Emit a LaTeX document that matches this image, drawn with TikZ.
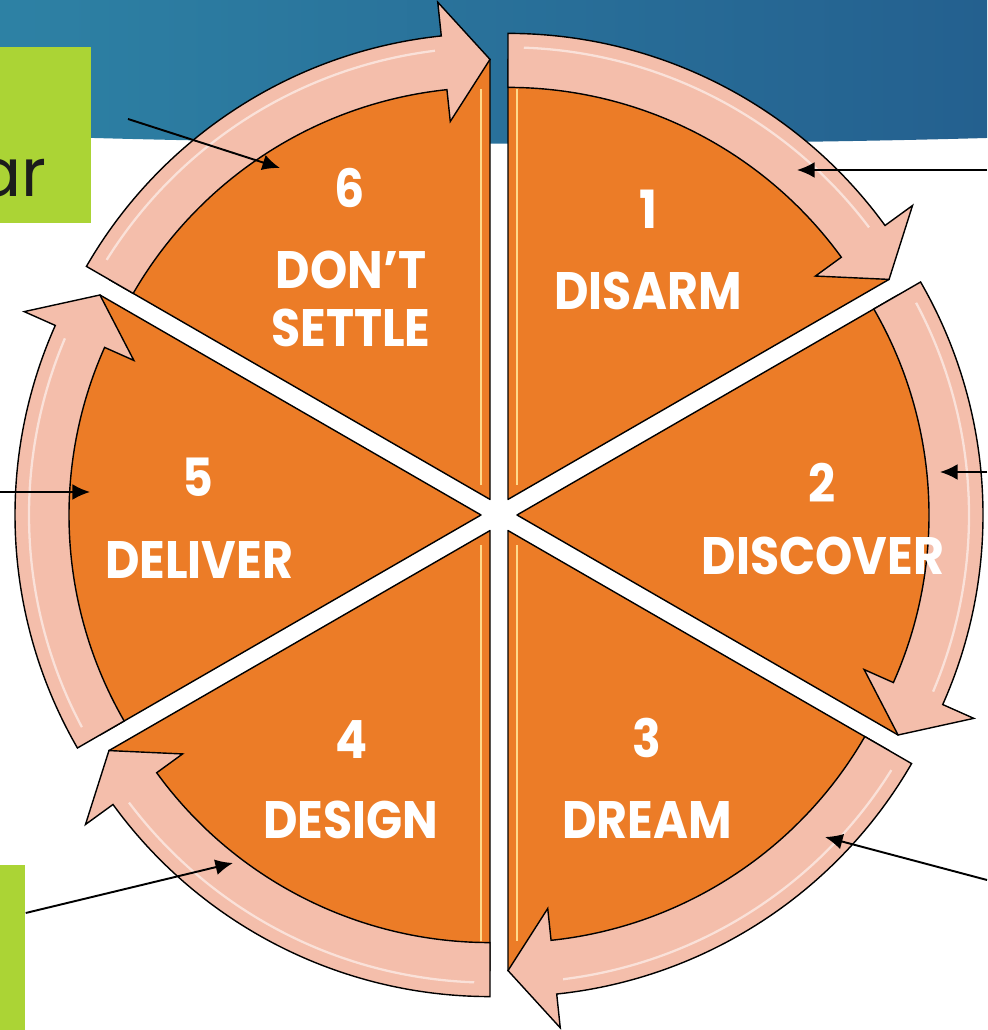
\documentclass[tikz,border=0pt]{standalone}
\usepackage{fontspec}
\setmainfont{Poppins}
\newfontfamily\stepfont[FakeStretch=0.9]{Poppins}
\usetikzlibrary{arrows.meta}

\definecolor{wedge}{HTML}{EC7C27}
\definecolor{band}{HTML}{F4BEAB}
\definecolor{bevel}{HTML}{FFD98A}
\definecolor{lime}{HTML}{ABD435}
\definecolor{sea}{HTML}{2F87A8}
\definecolor{deepsea}{HTML}{24608F}
\definecolor{ink}{HTML}{1C1C1C}

\tikzset{
  wedgepart/.style={fill=wedge, draw=black, line width=0.8pt, line join=round},
  bandpart/.style={fill=band, draw=black, line width=0.8pt, line join=miter},
  gloss/.style={draw=white, opacity=0.55, line width=1.3pt},
  bevelline/.style={draw=bevel, line width=1.6pt},
  stepnum/.style={text=white, font=\stepfont\bfseries\fontsize{30}{30}\selectfont, inner sep=0pt},
  stepname/.style={text=white, font=\stepfont\bfseries\fontsize{30}{33}\selectfont, align=center, inner sep=0pt},
  pointer/.style={-{Latex[length=10pt,width=9pt]}, line width=1.1pt, draw=black},
  tagbox/.style={fill=lime, inner sep=0pt, anchor=south west}
}

\begin{document}
\begin{tikzpicture}[x=0.02cm, y=0.02cm]
\useasboundingbox (0,0) rectangle (987,1030);
\fill[white] (0,0) rectangle (987,1030);

% banner across the top
\shade[left color=sea!85!deepsea, middle color=sea, right color=deepsea]
  (0,1030) -- (0,895) .. controls (300,884) and (700,884) .. (987,892) -- (987,1030) -- cycle;

% green boxes on the left
\node[tagbox, minimum width=1.82cm, minimum height=3.52cm] (topbox) at (0,807) {};
\node[anchor=base east, inner sep=0pt, text=ink, font=\fontsize{38}{38}\selectfont] (tag) at (47,833) {ar};
\node[tagbox, minimum width=0.5cm, minimum height=3.3cm] (lowbox) at (0,0) {};

% six wedges, each with its curved arrow
\begin{scope}[shift={(499,515)}]
\foreach \a in {90,30,-30,-90,-150,-210}{
  \pgfmathsetmacro\b{\a-30}
  \pgfmathsetmacro\e{\a-60}
  \pgfmathsetmacro\w{\a-54}
  \begin{scope}[shift={(\b:18)}]
    \draw[wedgepart] (0,0) -- (\a:440) arc[start angle=\a, end angle=\e, radius=440] -- cycle;
  \end{scope}
}
\end{scope}

% light strip along the upright edges
\draw[bevelline] (517,545) -- (517,941);
\draw[bevelline] (481,545) -- (481,941);
\draw[bevelline] (517,485) -- (517,89);
\draw[bevelline] (481,485) -- (481,89);

\begin{scope}[shift={(499,515)}]
\foreach \a in {90,30,-30,-90,-150,-210}{
  \pgfmathsetmacro\b{\a-30}
  \pgfmathsetmacro\e{\a-60}
  \pgfmathsetmacro\w{\a-54}
  \pgfmathsetmacro\g{\a-2}
  \pgfmathsetmacro\h{\a-53}
  \begin{scope}[shift={(\b:18)}]
    \draw[bandpart] (\a:412) -- (\a:466) arc[start angle=\a, end angle=\w, radius=466]
      -- (\w:500) -- (\e:440) -- (\w:380) -- (\w:412)
      arc[start angle=\w, end angle=\a, radius=412] -- cycle;
    \draw[gloss] (\g:452) arc[start angle=\g, end angle=\h, radius=452];
  \end{scope}
}
\end{scope}

% labels
\node[stepnum] (num1) at (648,821) {1};
\node[stepname] (step1) at (648,739) {DISARM};
\node[stepnum] (num2) at (822,547) {2};
\node[stepname] (step2) at (823,474) {DISCOVER};
\node[stepnum] (num3) at (647,292) {3};
\node[stepname] (step3) at (647,210) {DREAM};
\node[stepnum] (num4) at (352,290) {4};
\node[stepname] (step4) at (351,210) {DESIGN};
\node[stepnum] (num5) at (198,553) {5};
\node[stepname] (step5) at (199,470) {DELIVER};
\node[stepnum] (num6) at (350,842) {6};
\node[stepname] (step6) at (351,731) {DON’T\\SETTLE};

% pointers
\coordinate (s6) at (128,911); \coordinate (t6) at (280,862);
\coordinate (s1) at (987,860); \coordinate (t1) at (797,860);
\coordinate (s5) at (0,538);   \coordinate (t5) at (90,538);
\coordinate (s2) at (987,558); \coordinate (t2) at (940,558);
\coordinate (s3) at (987,150); \coordinate (t3) at (825,193);
\coordinate (s4) at (lowbox.east |- 0,117); \coordinate (t4) at (233,167);
\draw[pointer] (s6) -- (t6);
\draw[pointer] (s1) -- (t1);
\draw[pointer] (s5) -- (t5);
\draw[pointer] (s2) -- (t2);
\draw[pointer] (s3) -- (t3);
\draw[pointer] (s4) -- (t4);
\end{tikzpicture}
\end{document}
